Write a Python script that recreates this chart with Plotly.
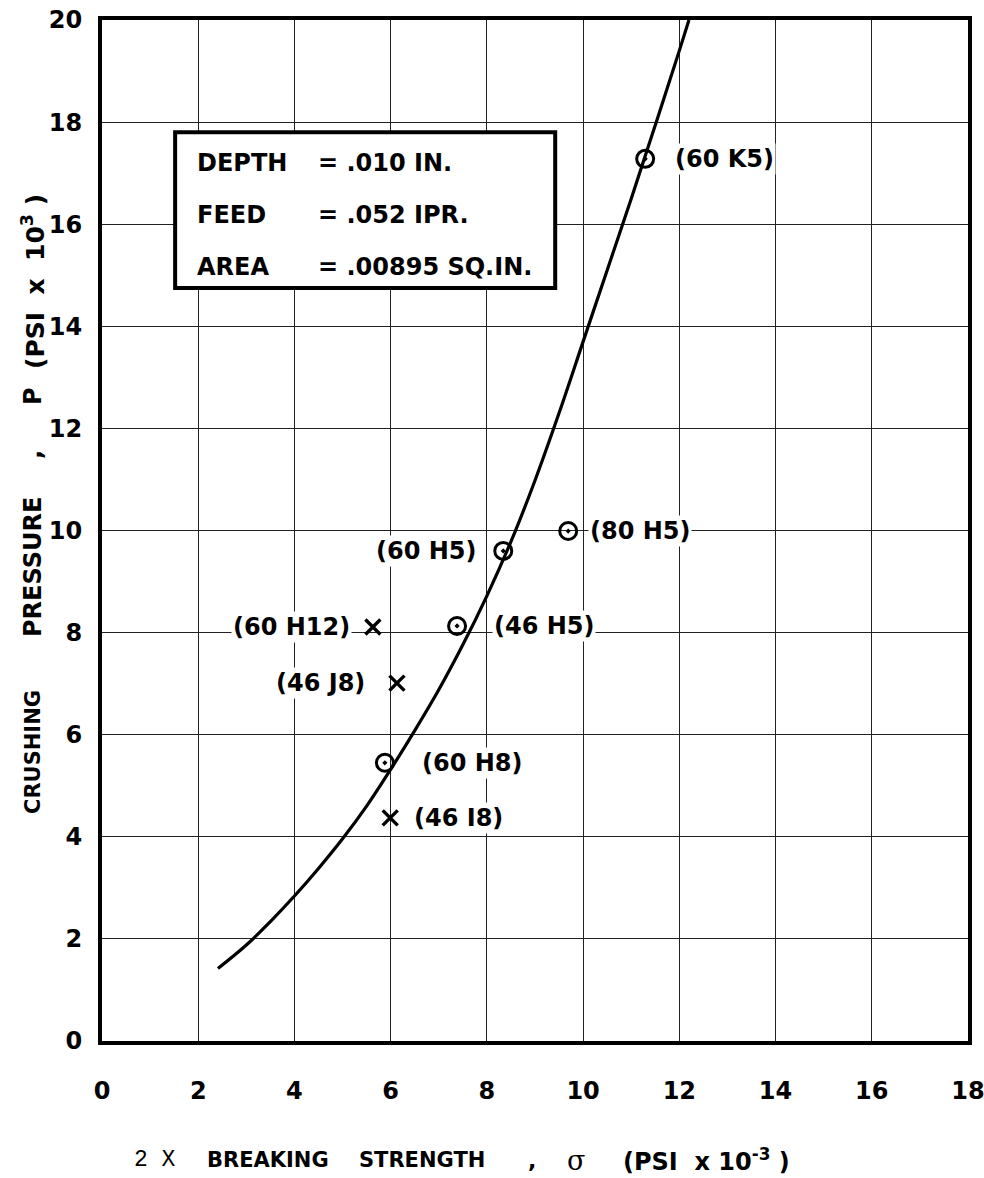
import plotly.graph_objects as go

# ---- data ----
curve_x = [2.41, 3.0, 3.5, 4.0, 4.5, 5.0, 5.5, 6.0, 6.5, 7.0, 7.5, 8.0, 8.5, 9.0,
           9.5, 10.0, 10.5, 11.0, 11.5, 12.0, 12.2]
curve_y = [1.42, 1.88, 2.34, 2.84, 3.38, 3.96, 4.60, 5.32, 6.08, 6.88, 7.76, 8.72, 9.78, 10.98,
           12.30, 13.70, 15.10, 16.50, 17.94, 19.40, 20.0]

circle_labels = ["(60 K5)", "(80 H5)", "(60 H5)", "(46 H5)", "(60 H8)"]
circle_x = [11.29, 9.69, 8.34, 7.38, 5.88]
circle_y = [17.28, 9.99, 9.60, 8.13, 5.45]

cross_labels = ["(60 H12)", "(46 J8)", "(46 I8)"]
cross_x = [5.63, 6.13, 5.99]
cross_y = [8.11, 7.01, 4.37]

x_ticks = [0, 2, 4, 6, 8, 10, 12, 14, 16, 18]
y_ticks = [0, 2, 4, 6, 8, 10, 12, 14, 16, 18, 20]

box_names = ["DEPTH", "FEED", "AREA"]
box_values = ["= .010 IN.", "= .052 IPR.", "= .00895 SQ.IN."]

# label placement (pixel offsets, anchors)
circle_off = [(28, "left"), (20, "left"), (-25, "right"), (35, "left"), (35, "left")]
cross_off = [(-21, "right"), (-30, "right"), (22, "left")]

FONT = "DejaVu Sans"
nb = "\u00a0"

fig = go.Figure()
fig.add_trace(go.Scatter(x=curve_x, y=curve_y, mode="lines",
                         line=dict(color="black", width=3.2, shape="spline", smoothing=1.0),
                         hoverinfo="skip", showlegend=False))
fig.add_trace(go.Scatter(x=circle_x, y=circle_y, mode="markers",
                         marker=dict(symbol="circle-open-dot", size=17, color="black",
                                     line=dict(color="black", width=3)),
                         showlegend=False))
fig.add_trace(go.Scatter(x=cross_x, y=cross_y, mode="markers",
                         marker=dict(symbol="x-thin", size=15, color="black",
                                     line=dict(color="black", width=3.4)),
                         showlegend=False))

lab_font = dict(family=FONT, size=24, color="black", weight="bold")
for lab, x, y, (dx, anc) in zip(circle_labels, circle_x, circle_y, circle_off):
    fig.add_annotation(x=x, y=y, text=lab, showarrow=False, xanchor=anc, yanchor="middle",
                       xshift=dx, font=lab_font, bgcolor="white", borderpad=1)
for lab, x, y, (dx, anc) in zip(cross_labels, cross_x, cross_y, cross_off):
    fig.add_annotation(x=x, y=y, text=lab, showarrow=False, xanchor=anc, yanchor="middle",
                       xshift=dx, font=lab_font, bgcolor="white", borderpad=1)

# parameter box
fig.add_shape(type="rect", xref="x", yref="y", x0=1.52, x1=9.42, y0=14.75, y1=17.8,
              line=dict(color="black", width=4), fillcolor="white", layer="above")
row_y = [17.2, 16.18, 15.16]
for name, val, ry in zip(box_names, box_values, row_y):
    fig.add_annotation(x=1.93, y=ry, text=name, showarrow=False, xanchor="left",
                       yanchor="middle", font=lab_font)
    fig.add_annotation(x=4.45, y=ry, text=val, showarrow=False, xanchor="left",
                       yanchor="middle", font=lab_font)

# y axis title, piece by piece (pixel positions of the reference)
def ypiece(text, ypx, size, family=FONT, weight="bold"):
    fig.add_annotation(xref="paper", yref="paper", x=(33 - 102) / 866, y=(1041 - ypx) / 1021,
                       text=text, textangle=-90, showarrow=False, xanchor="center",
                       yanchor="middle",
                       font=dict(family=family, size=size, color="black", weight=weight))

ypiece("CRUSHING", 752, 21)
ypiece("PRESSURE", 567, 24)
ypiece(",", 455, 24)
ypiece("P", 396, 24)
ypiece(f"(PSI{nb*2}x{nb*2}10<sup>3</sup>{nb})", 282, 25)

# x axis title, piece by piece
def xpiece(text, xpx, size, family=FONT, weight="bold"):
    fig.add_annotation(xref="paper", yref="paper", x=(xpx - 102) / 866, y=(1041 - 1160) / 1021,
                       text=text, showarrow=False, xanchor="center", yanchor="middle",
                       font=dict(family=family, size=size, color="black", weight=weight))

xpiece(f"2{nb}X", 155, 23, family="Liberation Mono", weight="normal")
xpiece("BREAKING", 268, 21)
xpiece("STRENGTH", 422, 21)
xpiece(",", 532, 22)
xpiece("σ", 576, 27, family="DejaVu Serif", weight="normal")
xpiece(f"(PSI{nb*2}x{nb}10<sup>-3</sup>{nb})", 706, 24)

axis_common = dict(showline=True, linecolor="black", linewidth=4, mirror=True,
                   showgrid=True, gridcolor="#222222", gridwidth=1.2, zeroline=False,
                   ticks="", ticklabeloverflow="allow", automargin=False,
                   tickfont=dict(family=FONT, size=24, color="black", weight="bold"))
fig.update_xaxes(range=[0, 18], tickvals=x_ticks, ticktext=[str(v) for v in x_ticks],
                 ticklabelstandoff=25, **axis_common)
fig.update_yaxes(range=[0, 20], tickvals=y_ticks, ticktext=[str(v) for v in y_ticks],
                 ticklabelstandoff=11, **axis_common)

fig.update_layout(width=984, height=1178, margin=dict(l=102, r=16, t=20, b=137, autoexpand=False),
                  paper_bgcolor="white", plot_bgcolor="white", showlegend=False)

fig.write_html("out.html")
